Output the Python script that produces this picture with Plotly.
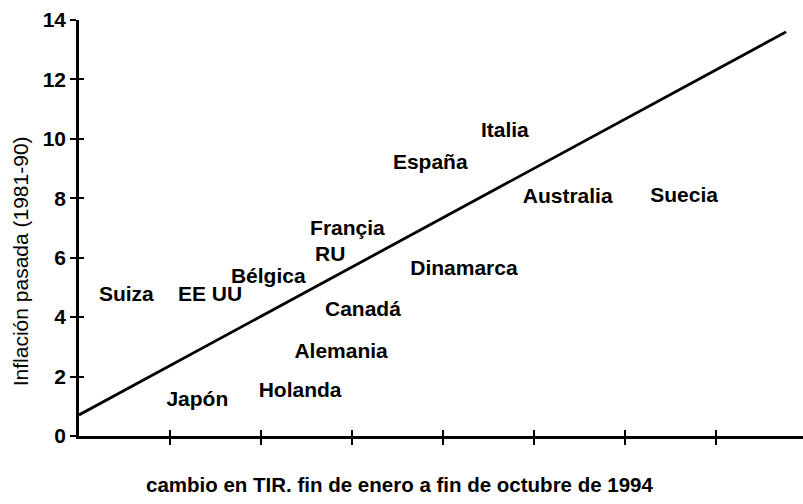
import plotly.graph_objects as go

# country labels placed at (cambio en TIR, inflación pasada)
countries = ['Suiza', 'EE UU', 'Bélgica', 'Françia', 'RU', 'Dinamarca', 'Canadá',
             'Alemania', 'Holanda', 'Japón', 'España', 'Italia', 'Australia', 'Suecia']
tir_change = [0.52, 1.44, 2.08, 2.95, 2.76, 4.23, 3.12, 2.88, 2.43, 1.30, 3.86, 4.68, 5.37, 6.65]
past_inflation = [4.73, 4.73, 5.31, 6.93, 6.08, 5.61, 4.23, 2.81, 1.49, 1.18, 9.16, 10.25, 8.01, 8.05]

# fitted line end points
fit_x = [0, 7.77]
fit_y = [0.71, 13.6]

x_ticks = [1, 2, 3, 4, 5, 6, 7]
y_ticks = [0, 2, 4, 6, 8, 10, 12, 14]

FONT = 'Arial, Liberation Sans, Helvetica, sans-serif'
x_range = [0, 7.956]
y_range = [0, 14]

fig = go.Figure()
fig.add_trace(go.Scatter(
    x=tir_change, y=past_inflation, mode='text', text=countries,
    textposition='middle center',
    textfont=dict(family=FONT, size=21, color='black', weight='bold'),
    hoverinfo='text', showlegend=False
))
# the line sits on the overlay axes so they get drawn (ticks crossing the axes)
fig.add_trace(go.Scatter(
    x=fit_x, y=fit_y, mode='lines', xaxis='x2', yaxis='y2',
    line=dict(color='black', width=2.8), showlegend=False, hoverinfo='skip'
))

axis_common = dict(showgrid=False, zeroline=False, showline=True,
                   linecolor='black', linewidth=2.5, tickcolor='black', tickwidth=2)

fig.update_layout(
    width=803, height=504,
    margin=dict(l=79, r=0, t=20, b=68),
    paper_bgcolor='white', plot_bgcolor='white',
    xaxis=dict(range=x_range, tickvals=x_ticks, ticks='outside', ticklen=6,
               showticklabels=False, **axis_common),
    yaxis=dict(range=y_range, tickvals=y_ticks, ticks='outside', ticklen=6,
               tickfont=dict(family=FONT, size=21, color='black', weight='bold'),
               **axis_common),
    xaxis2=dict(range=x_range, tickvals=x_ticks, ticks='inside', ticklen=6,
                showticklabels=False, overlaying='x', **axis_common),
    yaxis2=dict(range=y_range, tickvals=y_ticks, ticks='inside', ticklen=5,
                showticklabels=False, overlaying='y', **axis_common),
    annotations=[
        dict(text='cambio en TIR. fin de enero a fin de octubre de 1994',
             xref='paper', yref='paper', x=0.443, y=-0.116,
             xanchor='center', yanchor='middle', showarrow=False,
             font=dict(family=FONT, size=20.5, color='black', weight='bold')),
        dict(text='Inflación pasada (1981-90)', textangle=-90,
             xref='paper', yref='paper', x=-0.0815, y=0.42,
             xanchor='center', yanchor='middle', showarrow=False,
             font=dict(family=FONT, size=21, color='black')),
    ],
)

# drop the page's default body margin so the figure sits at the window origin
fig.write_html('out.html', config={'displayModeBar': False},
               post_script="document.body.style.margin='0';")
